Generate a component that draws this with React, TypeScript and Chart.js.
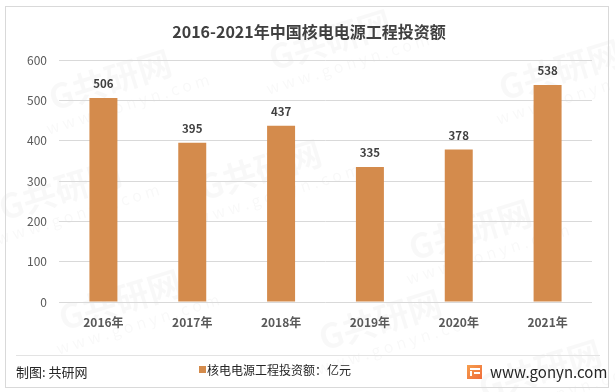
import React, { useEffect, useRef } from "react";
import { Chart, registerables } from "chart.js";

Chart.register(...registerables);

const TITLE = "2016-2021年中国核电电源工程投资额";
const categories = ["2016年", "2017年", "2018年", "2019年", "2020年", "2021年"];
const investment = [506, 395, 437, 335, 378, 538];
const seriesName = "核电电源工程投资额：亿元";
const yTicks = [0, 100, 200, 300, 400, 500, 600];
const sourceText = "制图: 共研网";
const siteText = "www.gonyn.com";

const FONT = "'Noto Sans CJK SC', 'Noto Sans', sans-serif";
const BAR_COLOR = "#D48B4C";
const TEXT_DARK = "#404040";

const decorPlugin = {
  id: "decor",
  beforeDraw(chart: any) {
    const ctx = chart.ctx;
    ctx.save();
    ctx.fillStyle = "#ffffff";
    ctx.fillRect(0, 0, chart.width, chart.height);
    // faint watermarks
    ctx.fillStyle = "rgba(0,0,0,0.028)";
    const marks = [
      [110, 80],
      [330, 40],
      [560, 70],
      [60, 190],
      [260, 170],
      [470, 230],
      [120, 300],
      [380, 320],
      [540, 370],
    ];
    for (const [x, y] of marks) {
      ctx.save();
      ctx.translate(x, y);
      ctx.rotate(-0.3);
      ctx.font = `bold 34px ${FONT}`;
      ctx.textAlign = "center";
      ctx.textBaseline = "middle";
      ctx.fillText("G共研网", 0, 0);
      ctx.font = `16px ${FONT}`;
      ctx.fillText("w w w . g o n y n . c o m", 10, 28);
      ctx.restore();
    }
    ctx.restore();
  },
  afterDraw(chart: any) {
    const ctx = chart.ctx;
    ctx.save();
    // frame
    ctx.strokeStyle = "#d9d9d9";
    ctx.lineWidth = 1;
    ctx.strokeRect(5.5, 6.5, 603, 381);
    // title
    ctx.fillStyle = TEXT_DARK;
    ctx.font = `bold 16px ${FONT}`;
    ctx.textAlign = "center";
    ctx.textBaseline = "middle";
    ctx.fillText(TITLE, 309, 32);
    // data labels
    const meta = chart.getDatasetMeta(0);
    ctx.font = `bold 11.5px ${FONT}`;
    ctx.fillStyle = TEXT_DARK;
    ctx.textBaseline = "middle";
    meta.data.forEach((bar: any, i: number) => {
      ctx.fillText(String(investment[i]), bar.x, bar.y - 14);
    });
    // separator
    ctx.strokeStyle = "#e3e3e3";
    ctx.beginPath();
    ctx.moveTo(16, 355.5);
    ctx.lineTo(600, 355.5);
    ctx.stroke();
    // source text
    ctx.textAlign = "left";
    ctx.textBaseline = "middle";
    ctx.fillStyle = "#262626";
    ctx.font = `13px ${FONT}`;
    ctx.fillText(sourceText, 16, 372);
    // legend
    ctx.fillStyle = BAR_COLOR;
    ctx.fillRect(199, 366, 7, 7);
    ctx.fillStyle = "#262626";
    ctx.font = `12px ${FONT}`;
    ctx.fillText(seriesName, 207, 370);
    // logo
    const g = ctx.createLinearGradient(467, 364, 482, 380);
    g.addColorStop(0, "#F6A04D");
    g.addColorStop(1, "#EF6A3A");
    ctx.fillStyle = g;
    ctx.fillRect(467, 365, 15, 14);
    ctx.fillStyle = "#ffffff";
    ctx.fillRect(470, 368, 10, 2);
    ctx.fillRect(470, 371, 2, 5);
    ctx.fillRect(474, 372, 6, 2);
    ctx.fillStyle = "#262626";
    ctx.font = `15px ${FONT}`;
    ctx.fillText(siteText, 490, 372);
    ctx.restore();
  },
};

export default function App() {
  const ref = useRef<HTMLCanvasElement | null>(null);
  useEffect(() => {
    if (!ref.current) return;
    const chart = new Chart(ref.current, {
      type: "bar",
      data: {
        labels: categories,
        datasets: [
          {
            label: seriesName,
            data: investment,
            backgroundColor: BAR_COLOR,
            categoryPercentage: 1,
            barPercentage: 0.315,
          },
        ],
      },
      options: {
        animation: false,
        responsive: false,
        maintainAspectRatio: false,
        layout: { padding: { top: 60, left: 0, right: 23, bottom: 60 } },
        plugins: {
          legend: { display: false },
          title: { display: false },
          tooltip: { enabled: false },
        },
        scales: {
          x: {
            grid: { display: false },
            border: { display: false },
            ticks: { color: "#595959", font: { family: FONT, size: 12, weight: "bold" }, padding: 5 },
            afterFit(scale: any) {
              scale.height = 30;
            },
          },
          y: {
            min: 0,
            max: 600,
            afterBuildTicks(scale: any) {
              scale.ticks = yTicks.map((v) => ({ value: v }));
            },
            grid: { color: "#d9d9d9", drawTicks: false },
            border: { display: false },
            ticks: { color: "#595959", font: { family: FONT, size: 12 }, padding: 12 },
            afterFit(scale: any) {
              scale.width = 59;
            },
          },
        },
      },
      plugins: [decorPlugin],
    });
    return () => chart.destroy();
  }, []);
  return (
    <div style={{ position: "fixed", left: 0, top: 0, width: 615, height: 392, background: "#fff" }}>
      <canvas ref={ref} width={615} height={392} style={{ width: 615, height: 392, display: "block" }} />
    </div>
  );
}
